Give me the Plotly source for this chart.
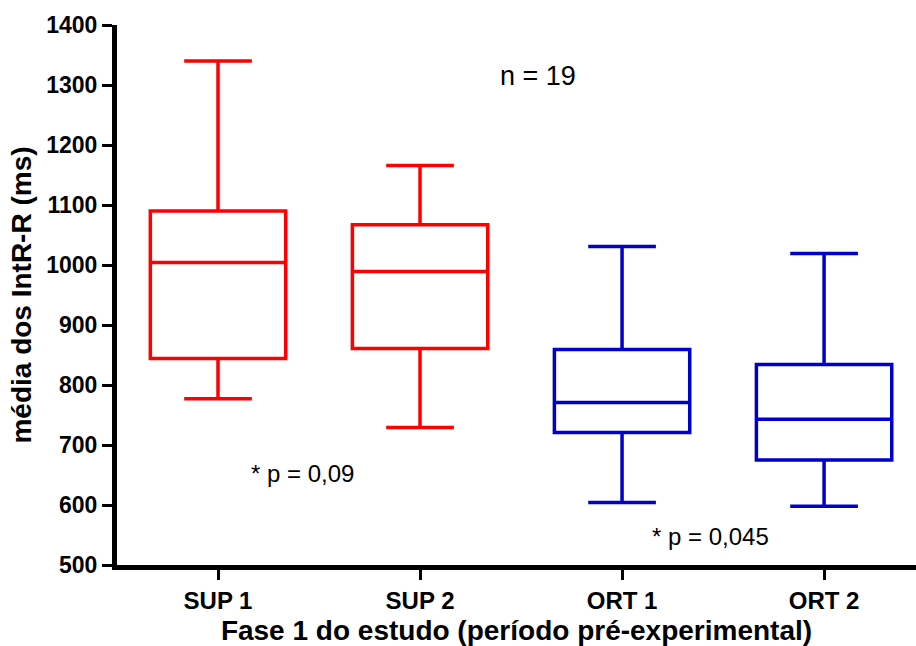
import plotly.graph_objects as go

categories = ["SUP 1", "SUP 2", "ORT 1", "ORT 2"]
upper_whisker = [1340, 1166, 1031, 1019]
q3_values = [1090, 1067, 859, 834]
median_values = [1004, 989, 771, 743]
q1_values = [844, 861, 721, 675]
lower_whisker = [777, 729, 604, 598]
box_colors = ["#FF0000", "#FF0000", "#0000CC", "#0000CC"]
y_ticks = [500, 600, 700, 800, 900, 1000, 1100, 1200, 1300, 1400]

FONT = "Liberation Sans, Arial, sans-serif"

fig = go.Figure()
for i, cat in enumerate(categories):
    fig.add_trace(go.Box(
        x=[i],
        q1=[q1_values[i]],
        median=[median_values[i]],
        q3=[q3_values[i]],
        lowerfence=[lower_whisker[i]],
        upperfence=[upper_whisker[i]],
        width=0.67,
        whiskerwidth=0.5,
        boxpoints=False,
        line=dict(color=box_colors[i], width=3.5),
        fillcolor="rgba(0,0,0,0)",
        name=cat,
        showlegend=False,
        hoverinfo="skip",
    ))

fig.update_layout(
    width=916,
    height=646,
    margin=dict(l=117, r=0, t=25, b=81),
    paper_bgcolor="white",
    plot_bgcolor="white",
    font=dict(family=FONT, color="black"),
    xaxis=dict(
        range=[-0.5, 3.455],
        tickmode="array",
        tickvals=list(range(len(categories))),
        ticktext=categories,
        showline=True,
        linecolor="black",
        linewidth=5,
        ticks="outside",
        ticklen=10,
        tickwidth=3,
        tickcolor="black",
        showgrid=False,
        zeroline=False,
        tickfont=dict(family=FONT, size=24, weight="bold", color="black"),
        title=dict(text="Fase 1 do estudo (período pré-experimental)",
                   font=dict(family=FONT, size=28, weight="bold", color="black"),
                   standoff=10),
    ),
    yaxis=dict(
        range=[500, 1400],
        tickmode="array",
        tickvals=y_ticks,
        ticktext=[str(v) for v in y_ticks],
        showline=True,
        linecolor="black",
        linewidth=5,
        ticks="outside",
        ticklen=10,
        tickwidth=3,
        tickcolor="black",
        showgrid=False,
        zeroline=False,
        tickfont=dict(family=FONT, size=23, weight="bold", color="black"),
        title=dict(text="média dos IntR-R (ms)",
                   font=dict(family=FONT, size=28, weight="bold", color="black"),
                   standoff=8),
    ),
    annotations=[
        dict(x=1.584, y=1315, xref="x", yref="y", text="n = 19", showarrow=False,
             font=dict(family=FONT, size=27, color="black")),
        dict(x=0.42, y=653, xref="x", yref="y", text="* p = 0,09", showarrow=False,
             font=dict(family=FONT, size=24, color="black")),
        dict(x=2.436, y=548, xref="x", yref="y", text="* p = 0,045", showarrow=False,
             font=dict(family=FONT, size=24, color="black")),
    ],
)

fig.write_html("out.html")
